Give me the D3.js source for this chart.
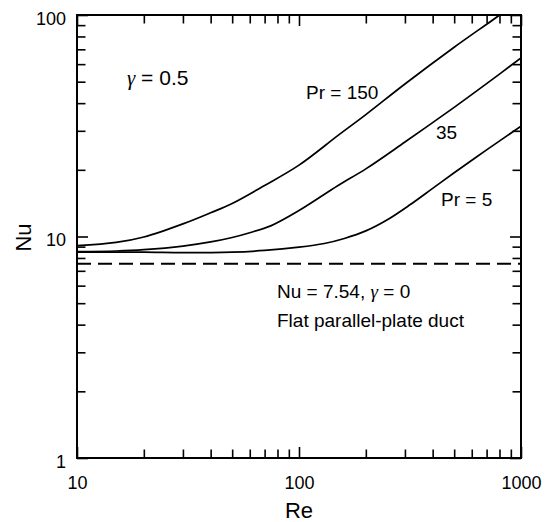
<!DOCTYPE html>
<html>
<head>
<meta charset="utf-8">
<script src="https://cdn.jsdelivr.net/npm/d3@7"></script>
<style>
  html, body { margin: 0; padding: 0; background: #fff; }
  svg { display: block; }
  text { font-family: "Liberation Sans", Arial, Helvetica, sans-serif; fill: #000; }
</style>
</head>
<body>
<svg id="chart" width="550" height="522"></svg>
<script>
// ---- data ----
const re150 = [10, 15, 20, 30, 40, 50, 70, 100, 150, 200, 300, 500, 800, 860];
const nu150 = [9.09, 9.4, 9.95, 11.4, 12.8, 14.1, 17.0, 21.0, 28.6, 35.5, 48.8, 71.5, 100, 106];

const re35 = [10, 15, 20, 30, 40, 50, 60, 75, 100, 150, 200, 300, 500, 700, 1000];
const nu35 = [8.54, 8.6, 8.72, 9.05, 9.45, 9.9, 10.4, 11.2, 13.1, 17.0, 20.2, 26.7, 38.3, 49.0, 64.0];

const re5 = [10, 20, 30, 50, 70, 100, 130, 160, 200, 250, 316, 400, 500, 700, 1000];
const nu5 = [8.5, 8.5, 8.45, 8.5, 8.65, 8.95, 9.3, 9.8, 10.6, 11.9, 13.9, 16.5, 19.4, 24.6, 31.5];

const nuFlat = 7.54;
const xTickLabels = [10, 100, 1000];
const yTickLabels = [1, 10, 100];

// ---- layout ----
const L = 77, R = 521, T = 15, B = 458;
const svg = d3.select("#chart");
const x = d3.scaleLog().domain([10, 1000]).range([L, R]);
const y = d3.scaleLog().domain([1, 100]).range([B, T]);

const minorX = x.ticks().filter(v => !xTickLabels.includes(v));
const minorY = y.ticks().filter(v => !yTickLabels.includes(v));

svg.append("defs").append("clipPath").attr("id", "clip")
  .append("rect").attr("x", L).attr("y", T).attr("width", R - L).attr("height", B - T);

function styleAxis(g) {
  g.select(".domain").remove();
  g.selectAll(".tick line").attr("stroke", "#000").attr("stroke-width", 1.6);
  g.selectAll(".tick text").style("font-size", "18px").attr("fill", "#000")
    .style("font-family", '"Liberation Sans", Arial, sans-serif');
}

// bottom
svg.append("g").attr("transform", `translate(0,${B})`)
  .call(d3.axisBottom(x).tickValues(minorX).tickSize(-8.5).tickFormat(""))
  .call(styleAxis);
svg.append("g").attr("transform", `translate(0,${B})`)
  .call(d3.axisBottom(x).tickValues(xTickLabels).tickSize(-11).tickPadding(18).tickFormat(d3.format("d")))
  .call(styleAxis);
// top
svg.append("g").attr("transform", `translate(0,${T})`)
  .call(d3.axisTop(x).tickValues(minorX).tickSize(-8.5).tickFormat(""))
  .call(styleAxis);
svg.append("g").attr("transform", `translate(0,${T})`)
  .call(d3.axisTop(x).tickValues(xTickLabels).tickSize(-11).tickFormat(""))
  .call(styleAxis);
// left
svg.append("g").attr("transform", `translate(${L},0)`)
  .call(d3.axisLeft(y).tickValues(minorY).tickSize(-8.5).tickFormat(""))
  .call(styleAxis);
const gl = svg.append("g").attr("transform", `translate(${L},0)`)
  .call(d3.axisLeft(y).tickValues(yTickLabels).tickSize(-11).tickPadding(11).tickFormat(d3.format("d")))
  .call(styleAxis);
gl.selectAll(".tick text").attr("dy", "0.5em");
// right
svg.append("g").attr("transform", `translate(${R},0)`)
  .call(d3.axisRight(y).tickValues(minorY).tickSize(-8.5).tickFormat(""))
  .call(styleAxis);
svg.append("g").attr("transform", `translate(${R},0)`)
  .call(d3.axisRight(y).tickValues(yTickLabels).tickSize(-11).tickFormat(""))
  .call(styleAxis);

// frame
svg.append("rect").attr("x", L).attr("y", T).attr("width", R - L).attr("height", B - T)
  .attr("fill", "none").attr("stroke", "#000").attr("stroke-width", 2);

// curves
const line = d3.line().x(d => x(d[0])).y(d => y(d[1])).curve(d3.curveCatmullRom.alpha(0.5));
const series = [
  d3.zip(re150, nu150),
  d3.zip(re35, nu35),
  d3.zip(re5, nu5)
];
svg.append("g").attr("clip-path", "url(#clip)")
  .selectAll("path").data(series).join("path")
  .attr("d", line).attr("fill", "none").attr("stroke", "#000").attr("stroke-width", 1.7);

// flat plate dashed line
svg.append("line")
  .attr("x1", x(10)).attr("x2", x(1000)).attr("y1", y(nuFlat)).attr("y2", y(nuFlat))
  .attr("stroke", "#000").attr("stroke-width", 2).attr("stroke-dasharray", "14,7");

// annotations
function gammaText(xp, yp, size, before, after) {
  const t = svg.append("text").attr("x", xp).attr("y", yp).style("font-size", size + "px");
  if (before) t.append("tspan").text(before);
  t.append("tspan").text("γ").style("font-family", '"Liberation Serif", "Times New Roman", serif').style("font-style", "italic");
  t.append("tspan").text(after);
  return t;
}
gammaText(127, 85, 21, "", " = 0.5");
svg.append("text").attr("x", 306).attr("y", 99).style("font-size", "19px").text("Pr = 150");
svg.append("text").attr("x", 436).attr("y", 139).style("font-size", "19px").text("35");
svg.append("text").attr("x", 441).attr("y", 206).style("font-size", "19px").text("Pr = 5");
gammaText(277, 298, 19, "Nu = 7.54, ", " = 0");
svg.append("text").attr("x", 277).attr("y", 327).style("font-size", "19px").text("Flat parallel-plate duct");

// axis titles
svg.append("text").attr("x", (L + R) / 2).attr("y", 518).attr("text-anchor", "middle")
  .style("font-size", "22px").text("Re");
svg.append("text").attr("transform", `translate(31,${(T + B) / 2 + 1}) rotate(-90)`)
  .attr("text-anchor", "middle").style("font-size", "22px").text("Nu");
</script>
</body>
</html>
